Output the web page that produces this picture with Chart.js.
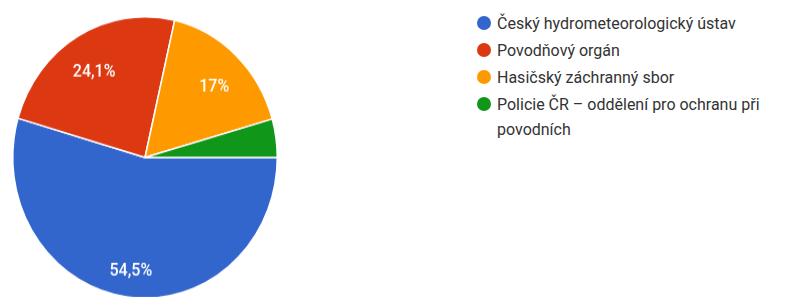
<!DOCTYPE html>
<html>
<head>
<meta charset="utf-8">
<script src="https://cdn.jsdelivr.net/npm/chart.js@4"></script>
<style>
  html, body { margin: 0; padding: 0; background: #fff; }
  body { width: 801px; height: 297px; position: relative; overflow: hidden; font-family: Roboto, "Liberation Sans", sans-serif; }
  #pieBox { position: absolute; left: 0; top: 0; width: 290px; height: 282px; transform: scaleY(1.064); transform-origin: 0 0; }
  #legend { position: absolute; left: 476px; top: 11px; margin: 0; padding: 0; list-style: none; }
  #legend li { position: relative; padding-left: 21px; font-size: 16px; line-height: 25px; color: #333; width: 300px; margin-bottom: 2px; }
  #legend li span.dot { position: absolute; left: 1px; top: 5px; width: 14px; height: 14px; border-radius: 50%; }
</style>
</head>
<body>
<div id="pieBox"><canvas id="pie"></canvas></div>
<ul id="legend"></ul>
<script>
// kategorie a hodnoty (v %)
const categories = [
  'Český hydrometeorologický ústav',
  'Povodňový orgán',
  'Hasičský záchranný sbor',
  'Policie ČR – oddělení pro ochranu při povodních'
];
const values = [54.5, 24.1, 17, 4.4];
const labelsShown = ['54,5%', '24,1%', '17%', ''];
const colors = ['#3366cc', '#dc3912', '#ff9900', '#109618'];

// popisky procent uvnitr vysecí
const sliceLabels = {
  id: 'sliceLabels',
  afterDatasetsDraw(chart) {
    const ctx = chart.ctx;
    const meta = chart.getDatasetMeta(0);
    ctx.save();
    ctx.fillStyle = '#fff';
    ctx.font = '500 16px Roboto, "Liberation Sans", sans-serif';
    ctx.textAlign = 'center';
    ctx.textBaseline = 'top';
    meta.data.forEach((arc, i) => {
      if (!labelsShown[i]) return;
      const p = arc.getProps(['x', 'y', 'startAngle', 'endAngle', 'outerRadius'], true);
      const mid = (p.startAngle + p.endAngle) / 2;
      const r = p.outerRadius * 0.76;
      ctx.fillText(labelsShown[i], p.x + Math.cos(mid) * r, p.y + Math.sin(mid) * r - 1);
    });
    ctx.restore();
  }
};

const pieChart = new Chart(document.getElementById('pie').getContext('2d'), {
  type: 'pie',
  data: {
    labels: categories,
    datasets: [{
      data: values,
      backgroundColor: colors,
      borderColor: '#ffffff',
      borderWidth: 1.5
    }]
  },
  options: {
    responsive: true,
    maintainAspectRatio: false,
    animation: false,
    rotation: 90,
    layout: { padding: { left: 12, right: 12, top: 15, bottom: 1 } },
    plugins: {
      legend: { display: false },
      tooltip: { enabled: false }
    }
  },
  plugins: [sliceLabels]
});

// legenda vpravo (HTML, zalamuje dlouhy text)
const legendEl = document.getElementById('legend');
categories.forEach((name, i) => {
  const li = document.createElement('li');
  const dot = document.createElement('span');
  dot.className = 'dot';
  dot.style.background = colors[i];
  li.appendChild(dot);
  li.appendChild(document.createTextNode(name));
  legendEl.appendChild(li);
});
</script>
</body>
</html>
